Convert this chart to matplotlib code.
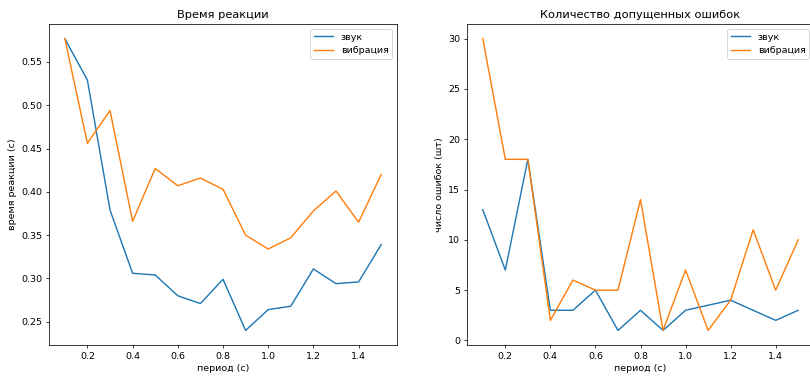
import numpy as np
import matplotlib.pyplot as plt

# ===============================
# Data
# ===============================
period = [0.1, 0.2, 0.3, 0.4, 0.5, 0.6, 0.7, 0.8, 0.9, 1.0, 1.1, 1.2, 1.3, 1.4, 1.5]

rt_sound = [0.577, 0.529, 0.379, 0.306, 0.304, 0.280, 0.271, 0.299,
            0.240, 0.264, 0.268, 0.311, 0.294, 0.296, 0.339]
rt_vibro = [0.577, 0.456, 0.494, 0.366, 0.427, 0.407, 0.416, 0.403,
            0.350, 0.334, 0.347, 0.378, 0.401, 0.365, 0.420]

err_sound = [13, 7, 18, 3, 3, 5, 1, 3, 1, 3, 3.5, 4, 3, 2, 3]
err_vibro = [30, 18, 18, 2, 6, 5, 5, 14, 1, 7, 1, 4, 11, 5, 10]

# ===============================
# Figure
# ===============================
DPI = 68
W, H = 810, 376
fig = plt.figure(figsize=(W / DPI, H / DPI), dpi=DPI)

ax1 = fig.add_axes([49 / W, (H - 345) / H, 348 / W, 321 / H])
ax2 = fig.add_axes([467 / W, (H - 345) / H, 347 / W, 321 / H])

# Reaction time
ax1.plot(period, rt_sound, label="звук")
ax1.plot(period, rt_vibro, label="вибрация")
ax1.set_title("Время реакции")
ax1.set_xlabel("период (с)")
ax1.set_ylabel("время реакции (с)")
ax1.legend(loc="upper right")

# Errors count
ax2.plot(period, err_sound, label="звук")
ax2.plot(period, err_vibro, label="вибрация")
ax2.set_title("Количество допущенных ошибок")
ax2.set_xlabel("период (с)")
ax2.set_ylabel("число ошибок (шт)")
ax2.legend(loc="upper right")

fig.savefig("out.png", dpi=DPI)
